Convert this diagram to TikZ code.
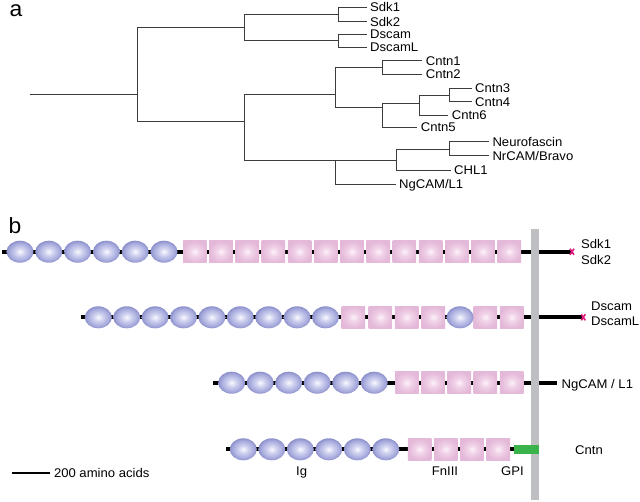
\documentclass[tikz,border=0pt]{standalone}
\usepackage{fontspec}
\setmainfont[FakeStretch=1.04]{Liberation Sans}
\usetikzlibrary{shapes.geometric}
\definecolor{treegray}{RGB}{60,60,60}
\definecolor{igC}{RGB}{250,250,255}
\definecolor{igM}{RGB}{210,212,240}
\definecolor{igE}{RGB}{165,169,220}
\definecolor{igB}{RGB}{140,144,202}
\definecolor{fnC}{RGB}{253,242,249}
\definecolor{fnM}{RGB}{240,210,232}
\definecolor{fnE}{RGB}{228,184,216}
\definecolor{bargray}{RGB}{190,191,195}
\definecolor{gpigreen}{RGB}{58,180,74}
\definecolor{xmag}{RGB}{225,25,125}
\pgfdeclareradialshading{igshade}{\pgfpoint{0bp}{0bp}}{color(0bp)=(igC); color(8bp)=(igM); color(20bp)=(igE); color(25bp)=(igB); color(50bp)=(igB)}
\pgfdeclareradialshading{fnshade}{\pgfpoint{0bp}{0bp}}{color(0bp)=(fnC); color(10bp)=(fnM); color(25bp)=(fnE); color(50bp)=(fnE)}
\begin{document}
\begin{tikzpicture}[x=1pt,y=-1pt,
  font=\fontsize{12.6}{14}\selectfont,
  tree/.style={draw=treegray, line width=1pt},
  leaf/.style={anchor=west, inner sep=0pt, outer xsep=3.5pt, text height=9pt, text depth=0pt},
  lab/.style={anchor=west, inner sep=0pt, text height=9pt, text depth=0pt},
  under/.style={anchor=base, inner sep=0pt},
  panel/.style={anchor=base west, inner sep=0pt, font=\fontsize{22}{24}\selectfont},
  igdom/.style={ellipse, minimum width=27pt, minimum height=22pt, inner sep=0pt, shade, shading=igshade},
  fndom/.style={rectangle, minimum width=23.6pt, minimum height=22pt, inner sep=0pt, shade, shading=fnshade},
  bb/.style={line width=3.8pt, draw=black},
  xmark/.style={draw=xmag, line width=1.6pt}]
\useasboundingbox (0,0) rectangle (640,501);

% ---------- panel a: tree ----------
\node[panel] (pa) at (9.5,16) {a};
\coordinate (r0) at (30,94.3);
\coordinate (r1) at (137,94.3);
\coordinate (u) at (244.7,27);
\coordinate (l) at (244.7,121.3);
\coordinate (sdk) at (338.7,14.5);
\coordinate (dsc) at (338.7,40.8);
\coordinate (cn) at (335.3,94.3);
\coordinate (c12) at (382.7,67.3);
\coordinate (c3465) at (382.7,107.3);
\coordinate (c346) at (419,103.3);
\coordinate (c34) at (449,95);
\coordinate (nf) at (335.3,160);
\coordinate (nn) at (396.7,160);
\coordinate (nr) at (449,149.3);

\node[leaf] (Sdk1) at (366.7,7.3) {Sdk1};
\node[leaf] (Sdk2) at (366.7,21.7) {Sdk2};
\node[leaf] (Dscam) at (366.7,34.3) {Dscam};
\node[leaf] (DscamL) at (366.7,47.3) {DscamL};
\node[leaf] (Cntn1) at (422.3,60.7) {Cntn1};
\node[leaf] (Cntn2) at (422.3,74) {Cntn2};
\node[leaf] (Cntn3) at (471.7,88.3) {Cntn3};
\node[leaf] (Cntn4) at (471.7,101.7) {Cntn4};
\node[leaf] (Cntn6) at (448.3,115) {Cntn6};
\node[leaf] (Cntn5) at (417.3,127.3) {Cntn5};
\node[leaf] (Nfasc) at (489,141.7) {Neurofascin};
\node[leaf] (NrCAM) at (489,155.7) {NrCAM/Bravo};
\node[leaf] (CHL1) at (450.7,170) {CHL1};
\node[leaf] (NgCAM) at (395.7,184) {NgCAM/L1};

\draw[tree] (r0) -- (r1);
\draw[tree] (r1) |- (u);
\draw[tree] (r1) |- (l);
\draw[tree] (u) |- (sdk);
\draw[tree] (u) |- (dsc);
\draw[tree] (sdk) |- (Sdk1.west);
\draw[tree] (sdk) |- (Sdk2.west);
\draw[tree] (dsc) |- (Dscam.west);
\draw[tree] (dsc) |- (DscamL.west);
\draw[tree] (l) |- (cn);
\draw[tree] (l) |- (nf);
\draw[tree] (cn) |- (c12);
\draw[tree] (cn) |- (c3465);
\draw[tree] (c12) |- (Cntn1.west);
\draw[tree] (c12) |- (Cntn2.west);
\draw[tree] (c3465) |- (c346);
\draw[tree] (c3465) |- (Cntn5.west);
\draw[tree] (c346) |- (c34);
\draw[tree] (c346) |- (Cntn6.west);
\draw[tree] (c34) |- (Cntn3.west);
\draw[tree] (c34) |- (Cntn4.west);
\draw[tree] (nf) |- (nn);
\draw[tree] (nf) |- (NgCAM.west);
\draw[tree] (nn) |- (nr);
\draw[tree] (nn) |- (CHL1.west);
\draw[tree] (nr) |- (Nfasc.west);
\draw[tree] (nr) |- (NrCAM.west);

% ---------- panel b: domains ----------
\node[panel] (pb) at (8.5,233) {b};

% backbones
\coordinate (s1) at (2,251.7);   \coordinate (e1) at (572,251.7);
\coordinate (s2) at (80.7,317.3); \coordinate (e2) at (583.3,317.3);
\coordinate (s3) at (213.3,382.7); \coordinate (e3) at (557.3,382.7);
\coordinate (s4) at (226,449.3); \coordinate (e4) at (514,449.3);
\draw[bb] (s1) -- (e1);
\draw[bb] (s2) -- (e2);
\draw[bb] (s3) -- (e3);
\draw[bb] (s4) -- (e4);

% row 1: Sdk
\foreach \i in {0,...,5} \node[igdom] (a\i) at ({20+28.8*\i},251.7) {};
\foreach \i in {0,...,12} \node[fndom] (b\i) at ({194.8+26.2*\i},251.7) {};
% row 2: Dscam
\foreach \i in {0,...,8} \node[igdom] (c\i) at ({98.3+28.4*\i},317.3) {};
\foreach \x [count=\i] in {353.4,380.4,406.7,433.4,485.4,511.7} \node[fndom] (d\i) at (\x,317.3) {};
\node[igdom] (c9) at (460,317.3) {};
% row 3: NgCAM
\foreach \i in {0,...,5} \node[igdom] (g\i) at ({231.7+28.5*\i},382.7) {};
\foreach \i in {0,...,4} \node[fndom] (h\i) at ({406.8+26.2*\i},382.7) {};
% row 4: Cntn
\foreach \i in {0,...,5} \node[igdom] (k\i) at ({243.3+28.5*\i},449.3) {};
\foreach \i in {0,...,3} \node[fndom] (m\i) at ({419.6+26.2*\i},449.3) {};

% membrane
\node[fill=bargray, minimum width=8.3pt, minimum height=271pt, inner sep=0pt] (mem) at (534.8,364.5) {};
% GPI anchor
\node[fill=gpigreen, minimum width=24.5pt, minimum height=9pt, inner sep=0pt] (gpi) at (526.3,449.3) {};

% cytoplasmic marks
\draw[xmark] (e1) ++(-2,-3) -- ++(4,6) (e1) ++(-2,3) -- ++(4,-6);
\draw[xmark] (e2) ++(-2,-3) -- ++(4,6) (e2) ++(-2,3) -- ++(4,-6);

% labels
\node[lab] (L1) at (581,243.8) {Sdk1};
\node[lab] (L2) at (581,260.2) {Sdk2};
\node[lab] (L3) at (591,306) {Dscam};
\node[lab] (L4) at (591,321) {DscamL};
\node[lab] (L5) at (561.5,384) {NgCAM / L1};
\node[lab] (L6) at (575,450) {Cntn};
\node[under] (Ig) at (301.7,475) {Ig};
\node[under] (Fn) at (445,475) {FnIII};
\node[under] (GPI) at (512.5,475.5) {GPI};

% scale bar
\coordinate (sb0) at (11.7,473);
\node[lab, outer xsep=4pt] (sbt) at (50,473) {200 amino acids};
\draw[line width=1.4pt] (sb0) -- (sbt.west);
\end{tikzpicture}
\end{document}
